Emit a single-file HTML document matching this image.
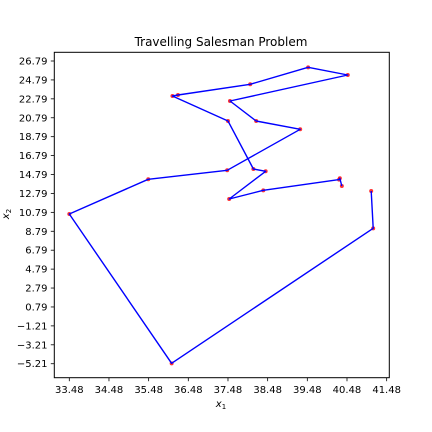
<!DOCTYPE html>
<html><head><meta charset="utf-8"><style>
html,body{margin:0;padding:0;background:#fff;}
svg{display:block;font-family:"DejaVu Sans","Liberation Sans",sans-serif;}
</style></head><body>
<svg id="chart" width="432" height="432" viewBox="0 0 432 432" xmlns="http://www.w3.org/2000/svg">
<rect x="0" y="0" width="432" height="432" fill="#fff"/>
<text x="221" y="46" font-size="12" text-anchor="middle" fill="#000">Travelling Salesman Problem</text>
<g id="axes"></g>
<g id="marks"></g>
<rect x="54.3" y="52.3" width="335" height="325.4" fill="none" stroke="#000" stroke-width="1"/>
<text x="221" y="407" font-size="10" font-style="italic" text-anchor="middle" fill="#000">x<tspan font-size="7" dy="2" font-style="normal">1</tspan></text>
<text transform="translate(9,214) rotate(-90)" font-size="10" font-style="italic" text-anchor="middle" fill="#000">x<tspan font-size="7" dy="2" font-style="normal">2</tspan></text>
</svg>
<script>
const routeX = [41.09, 41.14, 36.06, 33.48, 35.47, 37.46, 39.30, 38.19, 37.53, 40.50, 39.50, 38.04, 36.22, 36.08, 37.48, 38.12, 38.43, 37.51, 38.37, 40.28, 40.30, 40.35];
const routeY = [13.05, 9.10, -5.17, 10.62, 14.29, 15.24, 19.57, 20.45, 22.56, 25.31, 26.12, 24.33, 23.20, 23.09, 20.45, 15.37, 15.13, 12.20, 13.12, 14.25, 14.40, 13.58];
const xTicks = [33.48, 34.48, 35.48, 36.48, 37.48, 38.48, 39.48, 40.48, 41.48];
const yTicks = [-5.21, -3.21, -1.21, 0.79, 2.79, 4.79, 6.79, 8.79, 10.79, 12.79, 14.79, 16.79, 18.79, 20.79, 22.79, 24.79, 26.79];

const NS = "http://www.w3.org/2000/svg";
function sx(v){ return 69.3 + (v - 33.48) * 39.67; }
function sy(v){ return 61 + (26.79 - v) * 9.46; }
function mk(tag, attrs, parent){
  const e = document.createElementNS(NS, tag);
  for (const k in attrs) e.setAttribute(k, attrs[k]);
  parent.appendChild(e);
  return e;
}
const axes = document.getElementById('axes');
const marks = document.getElementById('marks');
function fmt(v){ return (v < 0 ? '\u2212' + Math.abs(v).toFixed(2) : v.toFixed(2)); }

xTicks.forEach(v => {
  const t = mk('line', {x1: sx(v), x2: sx(v), y1: 377.7, y2: 381.2, stroke: '#000', 'stroke-width': 0.8}, axes);
  
  
  const l = mk('text', {x: sx(v), y: 393, 'font-size': 10, 'text-anchor': 'middle', fill: '#000'}, axes);
  l.textContent = fmt(v);
  
  
});
yTicks.forEach(v => {
  const t = mk('line', {x1: 50.8, x2: 54.3, y1: sy(v), y2: sy(v), stroke: '#000', 'stroke-width': 0.8}, axes);
  
  
  const l = mk('text', {x: 47.5, y: sy(v) + 3.5, 'font-size': 10, 'text-anchor': 'end', fill: '#000'}, axes);
  l.textContent = fmt(v);
  
  
});

const pts = routeX.map((x, i) => sx(x).toFixed(1) + ',' + sy(routeY[i]).toFixed(1)).join(' ');
routeX.forEach((x, i) => {
  const c = mk('circle', {cx: sx(x), cy: sy(routeY[i]), r: 2, fill: '#ff0000', opacity: 0.8}, marks);
  
  
});
const line = mk('polyline', {points: pts, fill: 'none', stroke: '#0000ff', 'stroke-width': 1.4, 'stroke-linejoin': 'round'}, marks);


</script>
</body></html>
